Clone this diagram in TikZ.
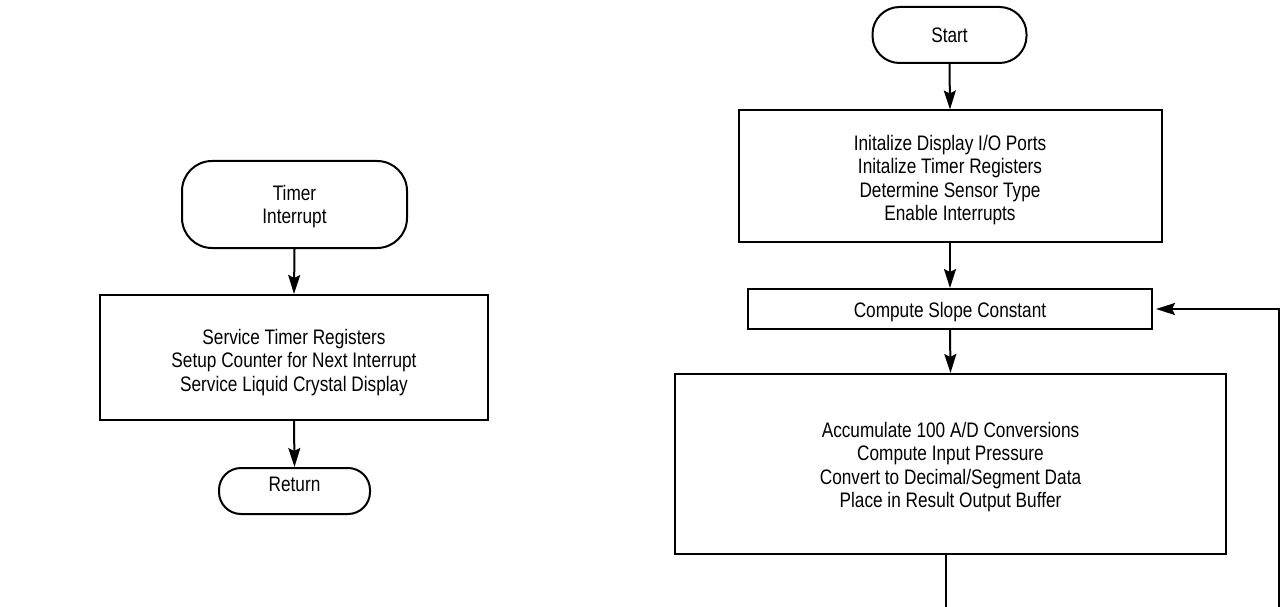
\documentclass[tikz,border=0pt]{standalone}
\usepackage{fontspec}
\setmainfont{Liberation Sans}[FakeStretch=0.82]
\usetikzlibrary{arrows.meta}
\newcommand\myTop[1]{\rule{0pt}{#1pt}}
\newcommand\myBot[1]{\rule[-#1pt]{0pt}{#1pt}}
\tikzset{
  flow/.style={draw, line width=2pt, align=center, inner sep=0pt, font=\fontsize{21}{23.5}\selectfont},
  term/.style={flow, rounded corners=30pt},
  proc/.style={flow},
  conn/.style={line width=2pt, -{Stealth[length=19pt,width=12pt,inset=3pt]}},
  wire/.style={line width=2pt}
}
\begin{document}
\begin{tikzpicture}[x=1pt,y=-1pt]
\useasboundingbox (0,0) rectangle (1280,607);
\clip (0,0) rectangle (1280,607);
% left flow
\node[term, minimum width=225pt, minimum height=87pt] (ti) at (294.5,204.5) {\myTop{19.4}Timer\\Interrupt};
\node[proc, minimum width=388pt, minimum height=125pt] (lbox) at (294,357.5) {\myTop{24.4}Service Timer Registers\\Setup Counter for Next Interrupt\\Service Liquid Crystal Display};
\node[term, rounded corners=22pt, minimum width=151pt, minimum height=46pt] (ret) at (294.5,491) {Return\myBot{14}};
\draw[conn] (ti.south) -- (lbox.north);
\draw[conn] (lbox.south) -- (ret.north);
% right flow
\node[term, rounded corners=27pt, minimum width=154pt, minimum height=56pt] (start) at (949.5,35) {Start};
\node[proc, minimum width=423pt, minimum height=131pt] (box1) at (950,176) {\myTop{23.4}Initalize Display I/O Ports\\Initalize Timer Registers\\Determine Sensor Type\\Enable Interrupts};
\node[proc, minimum width=404pt, minimum height=40pt] (slope) at (950,309) {\myTop{21.4}Compute Slope Constant};
\node[proc, minimum width=551pt, minimum height=180pt] (big) at (950.5,464) {\myTop{21.4}Accumulate 100 A/D Conversions\\Compute Input Pressure\\Convert to Decimal/Segment Data\\Place in Result Output Buffer};
\draw[conn] (start.south) -- (box1.north);
\draw[conn] (box1.south) -- (slope.north);
\draw[conn] (slope.south) -- (big.north);
\coordinate (bigout) at (946,554);
\coordinate (loopbl) at (946,640);
\coordinate (loopbr) at (1278.5,640);
\coordinate (slopein) at ([xshift=3pt]slope.east);
\draw[wire] (bigout) -- (loopbl) -- (loopbr);
\draw[conn] (loopbr) |- (slopein);
\end{tikzpicture}
\end{document}
